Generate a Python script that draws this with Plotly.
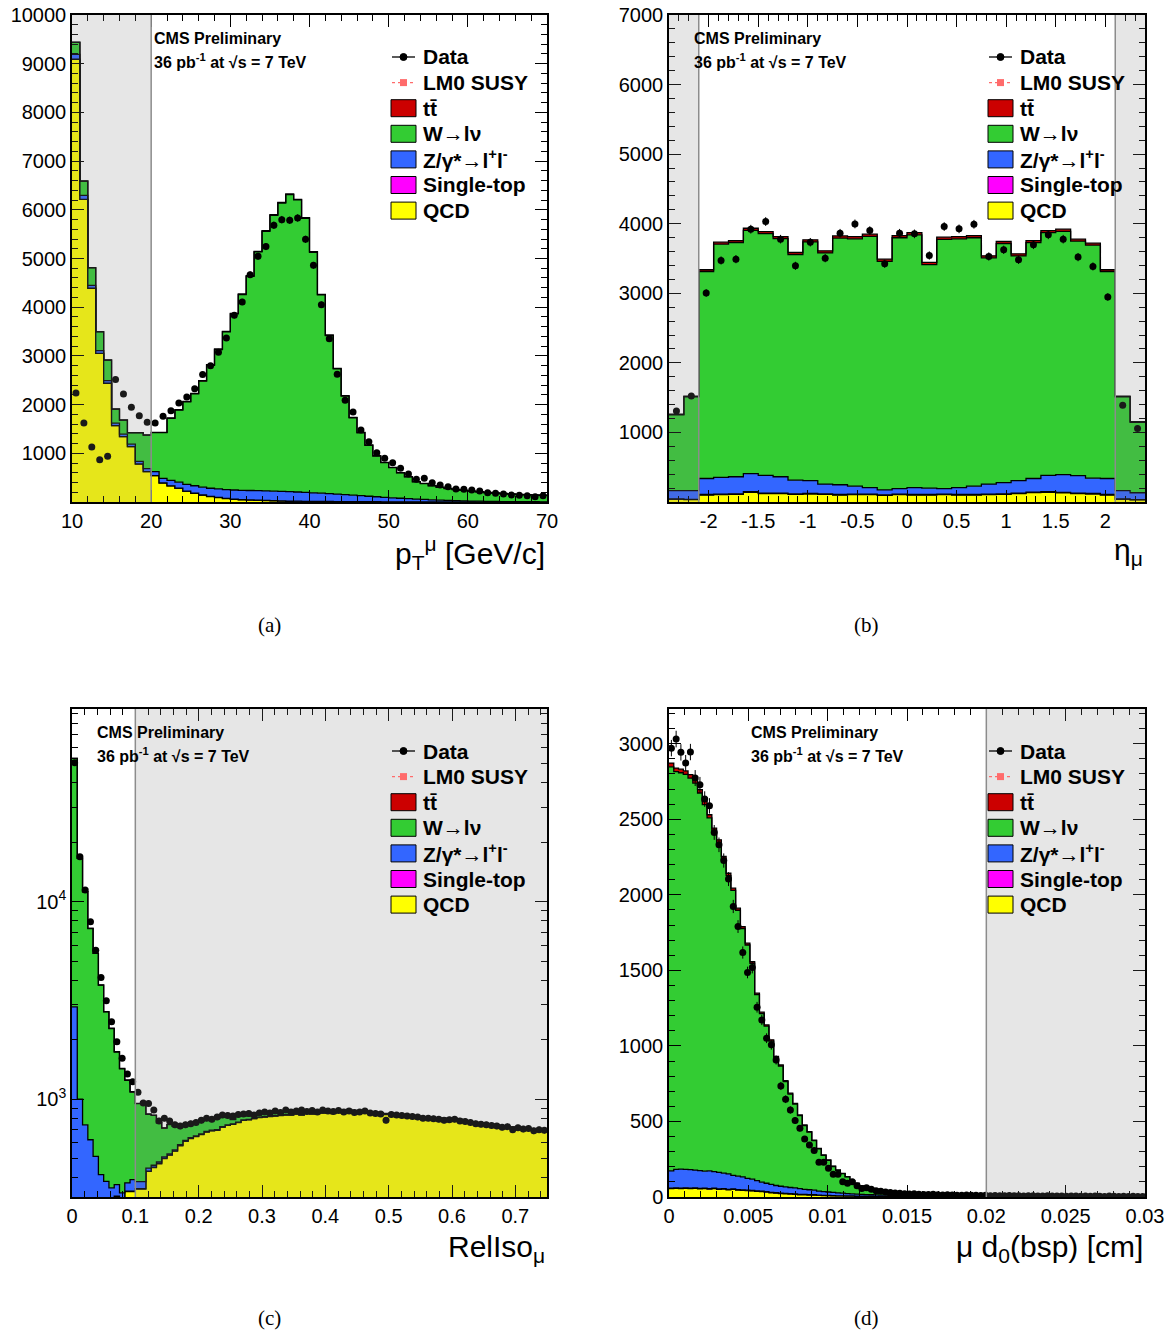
import numpy as np
import plotly.graph_objects as go

FIG_W, FIG_H = 1170, 1334
FONT = "Liberation Sans"

# ------------------------------------------------------------------
# Panel (a): muon pT, 1 GeV bins from 10 to 70
# ------------------------------------------------------------------
a_lo, a_width = 10.0, 1.0
a_data = [2240, 1620, 1128, 868, 937, 2513, 2218, 1944, 1773, 1636,
          1622, 1760, 1876, 2033, 2157, 2328, 2616, 2800, 3074, 3368,
          3833, 4107, 4668, 5045, 5244, 5682, 5798, 5784, 5832, 5394,
          4860, 4052, 3354, 2622, 2089, 1849, 1478, 1239, 1013, 897,
          808, 692, 575, 466, 486, 397, 349, 315, 267, 260,
          246, 226, 192, 178, 164, 144, 137, 130, 110, 130]
a_qcd = [9090, 6215, 4388, 3052, 2437, 1567, 1342, 1136, 780, 623,
         541, 390, 330, 280, 220, 180, 140, 110, 90, 70,
         55, 45, 38, 32, 27, 22, 18, 15, 12, 10,
         8, 7, 6, 5, 4, 3, 2, 2, 2, 1,
         1, 1, 1, 1, 0, 0, 0, 0, 0, 0,
         0, 0, 0, 0, 0, 0, 0, 0, 0, 0]
a_stop = [1, 1, 1, 1, 1, 1, 1, 1, 1, 1,
          2, 2, 3, 3, 3, 4, 4, 4, 4, 5,
          5, 5, 5, 5, 5, 5, 5, 5, 5, 4,
          4, 4, 4, 4, 3, 3, 3, 3, 3, 2,
          2, 2, 2, 2, 2, 2, 1, 1, 1, 1,
          1, 1, 1, 1, 1, 1, 1, 1, 1, 1]
a_zll = [100, 80, 60, 55, 55, 50, 50, 50, 55, 60,
         80, 95, 110, 125, 138, 150, 160, 168, 175, 181,
         186, 190, 193, 195, 196, 196, 195, 192, 188, 183,
         177, 170, 162, 153, 144, 134, 124, 113, 103, 93,
         83, 74, 65, 57, 50, 43, 37, 31, 26, 22,
         18, 15, 12, 10, 8, 7, 6, 5, 4, 3]
a_wlnu = [246, 292, 360, 386, 420, 289, 288, 234, 585, 689,
          803, 938, 1275, 1480, 1697, 1888, 2177, 2526, 2861, 3236,
          3615, 4017, 4398, 4902, 5330, 5664, 5922, 6100, 5997, 5629,
          4939, 4072, 3246, 2573, 2022, 1590, 1293, 1044, 835, 712,
          619, 519, 446, 352, 326, 285, 263, 244, 229, 214,
          203, 191, 179, 172, 164, 155, 146, 142, 138, 134]
a_ttbar = [3, 3, 3, 3, 3, 3, 3, 3, 3, 3,
           5, 6, 7, 8, 9, 10, 11, 12, 12, 13,
           13, 14, 14, 14, 14, 14, 14, 13, 13, 12,
           12, 11, 11, 10, 10, 9, 9, 8, 8, 7,
           7, 6, 6, 5, 5, 5, 4, 4, 4, 3,
           3, 3, 3, 2, 2, 2, 2, 2, 2, 2]
a_xticks = [10, 20, 30, 40, 50, 60, 70]
a_yticks = [1000, 2000, 3000, 4000, 5000, 6000, 7000, 8000, 9000, 10000]

# ------------------------------------------------------------------
# Panel (b): muon eta, 0.15 bins from -2.4 to 2.4
# ------------------------------------------------------------------
b_lo, b_width = -2.4, 0.15
b_data = [1308, 1523, 3004, 3472, 3491, 3921, 4031, 3778, 3395, 3734,
          3505, 3863, 3997, 3901, 3424, 3863, 3854, 3543, 3959, 3926,
          3992, 3529, 3625, 3481, 3696, 3840, 3778, 3520, 3386, 2947,
          1390, 1056]
b_qcd = [40, 35, 100, 105, 110, 140, 120, 120, 110, 115,
         110, 100, 105, 105, 95, 105, 100, 100, 105, 100,
         100, 105, 110, 120, 135, 140, 130, 120, 115, 100,
         40, 30]
b_stop = [3, 3, 8, 8, 8, 8, 8, 8, 8, 8,
          8, 8, 8, 8, 8, 8, 8, 8, 8, 8,
          8, 8, 8, 8, 8, 8, 8, 8, 8, 8,
          3, 3]
b_zll = [120, 125, 230, 240, 245, 260, 255, 235, 195, 185,
         140, 140, 115, 95, 70, 80, 100, 90, 80, 100,
         120, 145, 160, 180, 195, 235, 255, 250, 220, 230,
         120, 100]
b_wlnu = [1088, 1350, 2975, 3353, 3367, 3497, 3474, 3422, 3243, 3430,
          3322, 3545, 3555, 3609, 3286, 3605, 3633, 3213, 3581, 3575,
          3570, 3251, 3436, 3229, 3390, 3488, 3498, 3372, 3349, 2975,
          1350, 1013]
b_ttbar = [10, 10, 25, 28, 28, 30, 30, 30, 30, 30,
           30, 32, 32, 32, 32, 32, 32, 32, 32, 32,
           32, 30, 30, 30, 30, 30, 30, 28, 28, 25,
           10, 10]
b_xticks = [-2, -1.5, -1, -0.5, 0, 0.5, 1, 1.5, 2]
b_xticktext = ["-2", "-1.5", "-1", "-0.5", "0", "0.5", "1", "1.5", "2"]
b_yticks = [1000, 2000, 3000, 4000, 5000, 6000, 7000]

# ------------------------------------------------------------------
# Panel (c): relative isolation, 90 bins from 0 to 0.75 (log scale)
# ------------------------------------------------------------------
c_lo, c_width = 0.0, 0.75 / 90
c_data = [50500, 16870, 11430, 7900, 5670, 4130, 3150, 2460, 1950, 1607,
          1339, 1224, 1081, 955, 950, 880, 775, 800, 775, 740,
          730, 740, 750, 760, 780, 800, 790, 810, 830, 825,
          820, 835, 840, 845, 830, 850, 860, 850, 870, 855,
          880, 860, 870, 880, 865, 875, 860, 880, 870, 865,
          875, 860, 870, 855, 860, 870, 850, 845, 840, 780,
          835, 830, 825, 820, 815, 810, 800, 800, 795, 790,
          780, 785, 790, 775, 770, 760, 750, 745, 740, 735,
          730, 720, 725, 700, 715, 705, 710, 690, 700, 695]
c_qcd = [60, 80, 100, 120, 140, 160, 180, 200, 320, 280,
         340, 340, 350, 350, 430, 450, 470, 500, 520, 545,
         580, 610, 630, 645, 660, 680, 690, 695, 720, 735,
         745, 760, 780, 785, 795, 805, 810, 815, 820, 825,
         830, 830, 840, 830, 845, 840, 845, 850, 855, 845,
         860, 850, 865, 855, 850, 860, 850, 845, 838, 835,
         822, 828, 820, 815, 810, 805, 800, 798, 795, 790,
         790, 788, 786, 780, 765, 756, 751, 746, 741, 736,
         729, 721, 719, 713, 706, 703, 699, 696, 691, 689]
c_stop = [2, 2, 2, 2, 2, 2, 2, 2, 2, 2,
          2, 2, 2, 2, 2, 2, 2, 2, 2, 2,
          2, 2, 2, 2, 2, 2, 2, 2, 2, 2,
          2, 2, 2, 2, 2, 2, 2, 2, 2, 2,
          2, 2, 2, 2, 2, 2, 2, 2, 2, 2,
          2, 2, 2, 2, 2, 2, 2, 2, 2, 2,
          2, 2, 2, 2, 2, 2, 2, 2, 2, 2,
          2, 2, 2, 2, 2, 2, 2, 2, 2, 2,
          2, 2, 2, 2, 2, 2, 2, 2, 2, 2]
c_zll = [2870, 916, 638, 500, 370, 252, 201, 153, 47, 53,
         34, 49, 30, 30, 15, 10, 8, 8, 6, 6,
         5, 5, 5, 4, 4, 4, 4, 3, 3, 3,
         2, 2, 2, 2, 2, 2, 2, 2, 2, 2,
         2, 2, 2, 2, 2, 2, 2, 2, 2, 2,
         2, 2, 2, 2, 2, 2, 2, 2, 2, 2,
         2, 2, 2, 2, 2, 2, 2, 2, 2, 2,
         2, 2, 2, 2, 2, 2, 2, 2, 2, 2,
         2, 2, 2, 2, 2, 2, 2, 2, 2, 2]
c_wlnu = [50160, 15554, 10472, 6680, 4950, 3357, 2378, 1920, 1362, 1088,
          866, 692, 566, 584, 390, 365, 277, 202, 214, 174,
          145, 125, 115, 111, 106, 106, 101, 97, 87, 77,
          38, 63, 48, 33, 38, 33, 33, 23, 28, 18,
          23, 18, 18, 13, 18, 13, 13, 13, 13, 13,
          13, 13, 13, 13, 13, 3, 3, 6, 5, 3,
          6, 3, 5, 3, 3, 4, 3, 3, 4, 3,
          3, 3, 4, 3, 3, 3, 4, 3, 3, 3,
          3, 4, 3, 3, 3, 3, 4, 3, 3, 3]
c_ttbar = [10, 10, 10, 10, 10, 8, 8, 8, 8, 8,
           8, 8, 3, 3, 3, 3, 3, 3, 3, 3,
           3, 3, 3, 3, 3, 3, 3, 3, 3, 3,
           3, 3, 3, 3, 3, 3, 3, 3, 3, 3,
           3, 3, 3, 3, 3, 3, 3, 3, 3, 3,
           3, 3, 3, 3, 3, 3, 3, 3, 3, 3,
           3, 3, 3, 3, 3, 3, 3, 3, 3, 3,
           3, 3, 3, 3, 3, 3, 3, 3, 3, 3,
           3, 3, 3, 3, 3, 3, 3, 3, 3, 3]
c_xticks = [0, 0.1, 0.2, 0.3, 0.4, 0.5, 0.6, 0.7]
c_yticks = [1000, 10000]
c_yticktext = ["10<sup>3</sup>", "10<sup>4</sup>"]
c_yminor = [400, 500, 600, 700, 800, 900, 2000, 3000, 4000, 5000,
            6000, 7000, 8000, 9000, 20000, 30000, 40000, 50000, 60000,
            70000, 80000, 90000]

# ------------------------------------------------------------------
# Panel (d): muon d0 wrt beam spot, 100 bins from 0 to 0.03 cm
# ------------------------------------------------------------------
d_lo, d_width = 0.0, 0.0003
d_data = [2971, 3031, 2943, 2872, 2945, 2773, 2728, 2634, 2589, 2413,
          2331, 2227, 2104, 1923, 1790, 1618, 1486, 1519, 1256, 1172,
          1051, 1007, 907, 735, 647, 576, 506, 455, 384, 344,
          307, 230, 230, 190, 150, 150, 101, 91, 101, 75,
          57, 62, 51, 42, 38, 33, 30, 27, 24, 22,
          20, 21, 18, 17, 16, 18, 15, 14, 15, 13,
          12, 12, 13, 11, 11, 10, 11, 9, 10, 9,
          8, 10, 8, 9, 7, 8, 8, 7, 6, 8,
          7, 6, 7, 5, 6, 7, 5, 6, 5, 6,
          5, 4, 6, 5, 4, 5, 4, 5, 4, 4]
d_qcd = [55, 57, 56, 58, 55, 57, 54, 56, 52, 55,
         50, 52, 48, 50, 46, 44, 42, 40, 38, 35,
         32, 28, 25, 23, 21, 19, 17, 15, 14, 13,
         12, 11, 10, 9, 8, 7, 7, 6, 6, 5,
         5, 4, 4, 3, 3, 3, 3, 2, 2, 2,
         2, 1, 1, 1, 1, 1, 1, 1, 1, 1,
         1, 1, 1, 1, 1, 1, 1, 1, 1, 1,
         1, 1, 1, 1, 1, 1, 1, 1, 1, 1,
         1, 1, 1, 1, 1, 1, 1, 1, 1, 1,
         1, 1, 1, 1, 1, 1, 1, 1, 1, 1]
d_stop = [3, 3, 3, 3, 3, 3, 3, 3, 3, 3,
          3, 3, 3, 3, 3, 3, 3, 3, 3, 3,
          3, 3, 3, 3, 3, 3, 3, 3, 3, 3,
          3, 1, 1, 1, 1, 1, 1, 1, 1, 1,
          1, 1, 1, 1, 1, 1, 1, 1, 1, 1,
          1, 1, 1, 1, 1, 1, 1, 1, 1, 1,
          1, 1, 1, 1, 1, 1, 1, 1, 1, 1,
          1, 1, 1, 1, 1, 1, 1, 1, 1, 1,
          1, 1, 1, 1, 1, 1, 1, 1, 1, 1,
          1, 1, 1, 1, 1, 1, 1, 1, 1, 1]
d_zll = [115, 123, 126, 122, 123, 118, 118, 112, 118, 110,
         110, 103, 102, 90, 89, 86, 78, 75, 67, 60,
         56, 52, 48, 45, 43, 41, 40, 37, 34, 32,
         30, 27, 25, 23, 21, 19, 17, 16, 14, 13,
         11, 11, 10, 10, 9, 8, 7, 7, 6, 5,
         4, 3, 3, 3, 3, 3, 3, 3, 3, 3,
         3, 3, 3, 3, 3, 3, 3, 3, 3, 3,
         3, 2, 2, 2, 2, 2, 2, 2, 2, 2,
         2, 2, 2, 2, 2, 2, 2, 2, 2, 2,
         2, 2, 2, 2, 2, 2, 2, 2, 2, 2]
d_wlnu = [2674, 2632, 2623, 2614, 2591, 2562, 2499, 2426, 2337, 2255,
          2183, 2079, 1974, 1886, 1760, 1644, 1545, 1429, 1231, 1116,
          1040, 949, 847, 796, 697, 618, 555, 483, 421, 381,
          328, 279, 239, 209, 172, 149, 130, 110, 85, 70,
          54, 45, 41, 36, 32, 29, 26, 24, 22, 21,
          20, 20, 19, 18, 17, 16, 15, 14, 13, 12,
          11, 10, 9, 9, 8, 8, 7, 7, 6, 6,
          6, 6, 6, 6, 5, 5, 5, 5, 4, 4,
          4, 4, 4, 3, 3, 3, 3, 3, 2, 2,
          2, 2, 2, 2, 1, 1, 1, 1, 1, 1]
d_ttbar = [25, 24, 24, 23, 23, 22, 22, 21, 20, 19,
           18, 17, 16, 15, 14, 13, 12, 11, 10, 9,
           8, 8, 7, 7, 6, 6, 5, 5, 5, 4,
           4, 4, 3, 3, 3, 3, 2, 2, 2, 2,
           2, 1, 1, 1, 1, 1, 1, 1, 1, 1,
           1, 1, 1, 1, 1, 1, 1, 1, 1, 1,
           1, 1, 1, 1, 1, 1, 1, 1, 1, 1,
           1, 1, 1, 1, 1, 1, 1, 1, 1, 1,
           1, 1, 1, 1, 1, 1, 1, 1, 1, 1,
           1, 1, 1, 1, 1, 1, 1, 1, 1, 1]
d_xticks = [0, 0.005, 0.01, 0.015, 0.02, 0.025, 0.03]
d_yticks = [0, 500, 1000, 1500, 2000, 2500, 3000]

legend_labels = ["Data", "LM0 SUSY", "tt\u0304", "W\u2192l\u03bd",
                 "Z/\u03b3*\u2192l<sup>+</sup>l<sup>-</sup>", "Single-top", "QCD"]

COLORS = {"qcd": "#ffff00", "stop": "#ff00ff", "zll": "#3366ff",
          "wlnu": "#33cc33", "ttbar": "#cc0000"}
LEGEND_FILL = ["#cc0000", "#33cc33", "#3366ff", "#ff00ff", "#ffff00"]


def px_x(px):
    return px / FIG_W


def px_y(py):
    return 1 - py / FIG_H


fig = go.Figure()

panels = [
    dict(key="a", xa="x", ya="y", lo=a_lo, width=a_width, data=a_data,
         comps=[(a_qcd, "qcd"), (a_stop, "stop"), (a_zll, "zll"), (a_wlnu, "wlnu"), (a_ttbar, "ttbar")]),
    dict(key="b", xa="x2", ya="y2", lo=b_lo, width=b_width, data=b_data,
         comps=[(b_qcd, "qcd"), (b_stop, "stop"), (b_zll, "zll"), (b_wlnu, "wlnu"), (b_ttbar, "ttbar")]),
    dict(key="c", xa="x3", ya="y3", lo=c_lo, width=c_width, data=c_data,
         comps=[(c_qcd, "qcd"), (c_stop, "stop"), (c_zll, "zll"), (c_wlnu, "wlnu"), (c_ttbar, "ttbar")]),
    dict(key="d", xa="x4", ya="y4", lo=d_lo, width=d_width, data=d_data,
         comps=[(d_qcd, "qcd"), (d_stop, "stop"), (d_zll, "zll"), (d_wlnu, "wlnu"), (d_ttbar, "ttbar")]),
]

for p in panels:
    n = len(p["data"])
    edges = p["lo"] + p["width"] * np.arange(n + 1)
    centers = p["lo"] + p["width"] * (np.arange(n) + 0.5)
    for vals, comp in p["comps"]:
        fig.add_trace(go.Scatter(
            x=edges, y=list(vals) + [vals[-1]], mode="lines",
            line=dict(color="black", width=1.3, shape="hv"),
            fillcolor=COLORS[comp], stackgroup="stack_" + p["key"],
            xaxis=p["xa"], yaxis=p["ya"], showlegend=False, hoverinfo="skip"))
    fig.add_trace(go.Scatter(
        x=centers, y=p["data"], mode="markers",
        marker=dict(color="black", size=7),
        error_y=dict(type="sqrt", color="black", thickness=1, width=0),
        xaxis=p["xa"], yaxis=p["ya"], showlegend=False, hoverinfo="skip"))

# ------------------------------------------------------------------
# axes
# ------------------------------------------------------------------
frames = {"a": (72, 547, 15, 502), "b": (669, 1145, 15, 502),
          "c": (72, 547, 709, 1197), "d": (669, 1145, 709, 1197)}


def axis_style(**kw):
    st = dict(showline=True, linecolor="black", linewidth=1.5, mirror="ticks",
              ticks="inside", ticklen=12, tickwidth=1, tickcolor="black",
              showgrid=False, zeroline=False, automargin=False,
              tickfont=dict(family=FONT, size=20, color="black"))
    st.update(kw)
    return st


def minor(**kw):
    m = dict(ticks="inside", ticklen=6, tickwidth=1, tickcolor="black", showgrid=False)
    m.update(kw)
    return m


def dom_x(k):
    l, r, t, b = frames[k]
    return [px_x(l), px_x(r)]


def dom_y(k):
    l, r, t, b = frames[k]
    return [px_y(b), px_y(t)]


fig.update_layout(
    xaxis=axis_style(domain=dom_x("a"), anchor="y", range=[10, 70], tickmode="array",
                     tickvals=a_xticks, minor=minor(dtick=2)),
    yaxis=axis_style(domain=dom_y("a"), anchor="x", range=[0, 10000], tickmode="array",
                     tickvals=a_yticks, tickformat="d", minor=minor(dtick=200)),
    xaxis2=axis_style(domain=dom_x("b"), anchor="y2", range=[-2.4, 2.4], tickmode="array",
                      tickvals=b_xticks, ticktext=b_xticktext, minor=minor(dtick=0.1)),
    yaxis2=axis_style(domain=dom_y("b"), anchor="x2", range=[0, 7000], tickmode="array",
                      tickvals=b_yticks, tickformat="d", minor=minor(dtick=200)),
    xaxis3=axis_style(domain=dom_x("c"), anchor="y3", range=[0, 0.75], tickmode="array",
                      tickvals=c_xticks, minor=minor(dtick=0.02)),
    yaxis3=axis_style(domain=dom_y("c"), anchor="x3", type="log", range=[2.504, 4.975],
                      tickmode="array", tickvals=c_yticks, ticktext=c_yticktext,
                      minor=minor(tickmode="array", tickvals=c_yminor)),
    xaxis4=axis_style(domain=dom_x("d"), anchor="y4", range=[0, 0.03], tickmode="array",
                      tickvals=d_xticks, minor=minor(dtick=0.001)),
    yaxis4=axis_style(domain=dom_y("d"), anchor="x4", range=[0, 3230], tickmode="array",
                      tickvals=d_yticks, tickformat="d", minor=minor(dtick=100)),
)

# ------------------------------------------------------------------
# shaded (excluded) regions
# ------------------------------------------------------------------
shade_regions = [("x", "y domain", 10, 20, [20]),
                 ("x2", "y2 domain", -2.4, -2.1, [-2.1]),
                 ("x2", "y2 domain", 2.1, 2.4, [2.1]),
                 ("x3", "y3 domain", 0.1, 0.75, [0.1]),
                 ("x4", "y4 domain", 0.02, 0.03, [0.02])]
for xr, yr, x0, x1, borders in shade_regions:
    fig.add_shape(type="rect", xref=xr, yref=yr, x0=x0, x1=x1, y0=0, y1=1,
                  fillcolor="rgba(130,130,130,0.2)", line_width=0, layer="above")
    for xb in borders:
        fig.add_shape(type="line", xref=xr, yref=yr, x0=xb, x1=xb, y0=0, y1=1,
                      line=dict(color="#8c8c8c", width=1.5), layer="above")

# ------------------------------------------------------------------
# legends (drawn per panel)
# ------------------------------------------------------------------
annotations = []
shapes = []


def draw_legend(x0, y0):
    step = 25.6
    for i, lab in enumerate(legend_labels):
        yc = y0 + step * i
        if i == 0:
            shapes.append(dict(type="line", xref="paper", yref="paper",
                               x0=px_x(x0 + 1), x1=px_x(x0 + 24), y0=px_y(yc), y1=px_y(yc),
                               line=dict(color="black", width=1.3)))
            shapes.append(dict(type="circle", xref="paper", yref="paper",
                               x0=px_x(x0 + 9), x1=px_x(x0 + 16), y0=px_y(yc + 3.5), y1=px_y(yc - 3.5),
                               fillcolor="black", line=dict(color="black", width=1)))
        elif i == 1:
            shapes.append(dict(type="line", xref="paper", yref="paper",
                               x0=px_x(x0 + 1), x1=px_x(x0 + 24), y0=px_y(yc), y1=px_y(yc),
                               line=dict(color="#ff6b6b", width=1.3, dash="dot")))
            shapes.append(dict(type="rect", xref="paper", yref="paper",
                               x0=px_x(x0 + 9), x1=px_x(x0 + 16), y0=px_y(yc + 3.5), y1=px_y(yc - 3.5),
                               fillcolor="#ff6b6b", line=dict(width=0)))
        else:
            shapes.append(dict(type="rect", xref="paper", yref="paper",
                               x0=px_x(x0), x1=px_x(x0 + 25), y0=px_y(yc + 8.5), y1=px_y(yc - 8.5),
                               fillcolor=LEGEND_FILL[i - 2], line=dict(color="black", width=1)))
        annotations.append(dict(xref="paper", yref="paper", x=px_x(x0 + 30), y=px_y(yc),
                                xanchor="left", yanchor="middle", showarrow=False,
                                text="<b>" + lab + "</b>",
                                font=dict(family=FONT, size=21, color="black")))


draw_legend(391, 57)
draw_legend(988, 57)
draw_legend(391, 751)
draw_legend(988, 751)

# CMS labels
for xl, yt in [(152, 38), (692, 38), (95, 732), (749, 732)]:
    annotations.append(dict(xref="paper", yref="paper", x=px_x(xl), y=px_y(yt),
                            xanchor="left", yanchor="middle", showarrow=False,
                            text="<b>CMS Preliminary</b>",
                            font=dict(family=FONT, size=16, color="black")))
    annotations.append(dict(xref="paper", yref="paper", x=px_x(xl), y=px_y(yt + 23),
                            xanchor="left", yanchor="middle", showarrow=False,
                            text="<b>36 pb<sup>-1</sup> at \u221as = 7 TeV</b>",
                            font=dict(family=FONT, size=16, color="black")))

# axis titles
titles = [(547, 553, "p<sub>T</sub><sup>\u03bc</sup> [GeV/c]"),
          (1145, 551, "\u03b7<sub>\u03bc</sub>"),
          (547, 1248, "RelIso<sub>\u03bc</sub>"),
          (1145, 1248, "\u03bc d<sub>0</sub>(bsp) [cm]")]
for xr, yc, txt in titles:
    annotations.append(dict(xref="paper", yref="paper", x=px_x(xr), y=px_y(yc),
                            xanchor="right", yanchor="middle", showarrow=False, text=txt,
                            font=dict(family=FONT, size=30, color="black")))

# captions
for xc, yc, txt in [(269, 625, "(a)"), (866, 625, "(b)"), (269, 1318, "(c)"), (866, 1318, "(d)")]:
    annotations.append(dict(xref="paper", yref="paper", x=px_x(xc), y=px_y(yc),
                            xanchor="center", yanchor="middle", showarrow=False, text=txt,
                            font=dict(family="Liberation Serif", size=21, color="black")))

for s in shapes:
    fig.add_shape(**s)

fig.update_layout(
    annotations=annotations,
    width=FIG_W, height=FIG_H, autosize=False,
    margin=dict(l=0, r=0, t=0, b=0, pad=0),
    paper_bgcolor="white", plot_bgcolor="white",
    showlegend=False,
    font=dict(family=FONT, color="black"),
)

fig.write_html("out.html", config={"responsive": False, "displayModeBar": False},
               post_script="document.body.style.margin='0px';"
                           "document.body.style.overflow='hidden';")
